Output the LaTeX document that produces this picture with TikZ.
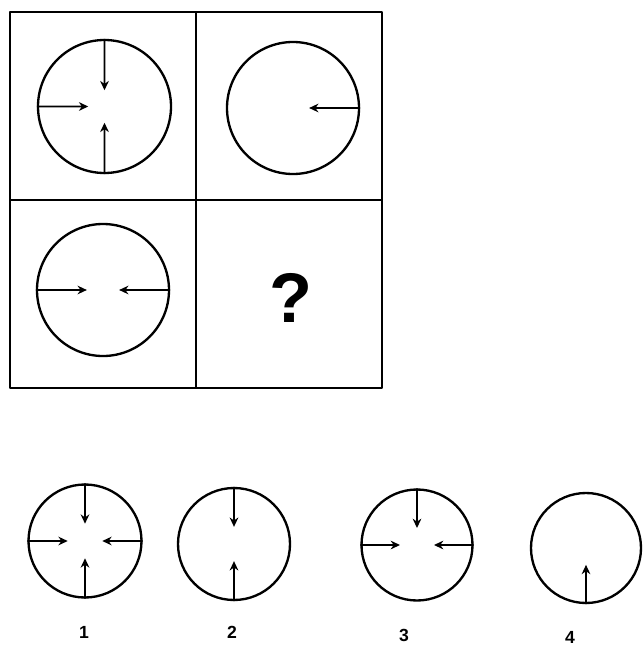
\documentclass[tikz,border=0pt]{standalone}
\usepackage{fontspec}
\setmainfont{Liberation Sans}
\usetikzlibrary{arrows.meta,calc}
\begin{document}
\begin{tikzpicture}[x=0.3mm,y=-0.3mm,line join=round,>={Stealth[length=2.8mm,width=2.6mm]}]
                \def\ga{0.24}\def\gb{0.3}
                \tikzset{ring/.style={circle,draw,line width=2pt,inner sep=0,minimum size=#1},
                    arr/.style={->,line width=1.4pt},
                    num/.style={font=\bfseries\fontsize{15}{15}\selectfont}}
                \useasboundingbox (0,0) rectangle (643,646);

                % the 2x2 grid
                \draw[line width=1.9pt] (10,12) rectangle (382,388) (196,12)--(196,388) (10,200)--(382,200);
                \path(104.5,106.5)node[ring=39.9mm](A){} (293,108)node[ring=39.6mm](B){}
                (103,290)node[ring=39.6mm](C){} (291,298)node[font=\bfseries\fontsize{60}{60}\selectfont](q){?};
                \foreach \c/\d in {A/north,A/west,A/south,B/east,C/west,C/east}{
                    \draw[arr] (\c.\d)--($(\c)!\ga!(\c.\d)$);	}

                % the four answers
                \path(85,541)node[ring=33.9mm](o1){} (234,544)node[ring=33.6mm](o2){}
                (417,545)node[ring=33.3mm](o3){} (586,548)node[ring=33mm](o4){};
                \foreach \c/\d in {o1/north,o1/west,o1/east,o1/south,o2/north,o2/south,o3/north,o3/west,o3/east,o4/south}{
                    \draw[arr] (\c.\d)--($(\c)!\gb!(\c.\d)$);	}
                \foreach \n/\x/\y in {1/84/632,2/232/632,3/404/635,4/570/637}{
                    \node[num](n\n) at (\x,\y){\n};	}
            \end{tikzpicture}
\end{document}
